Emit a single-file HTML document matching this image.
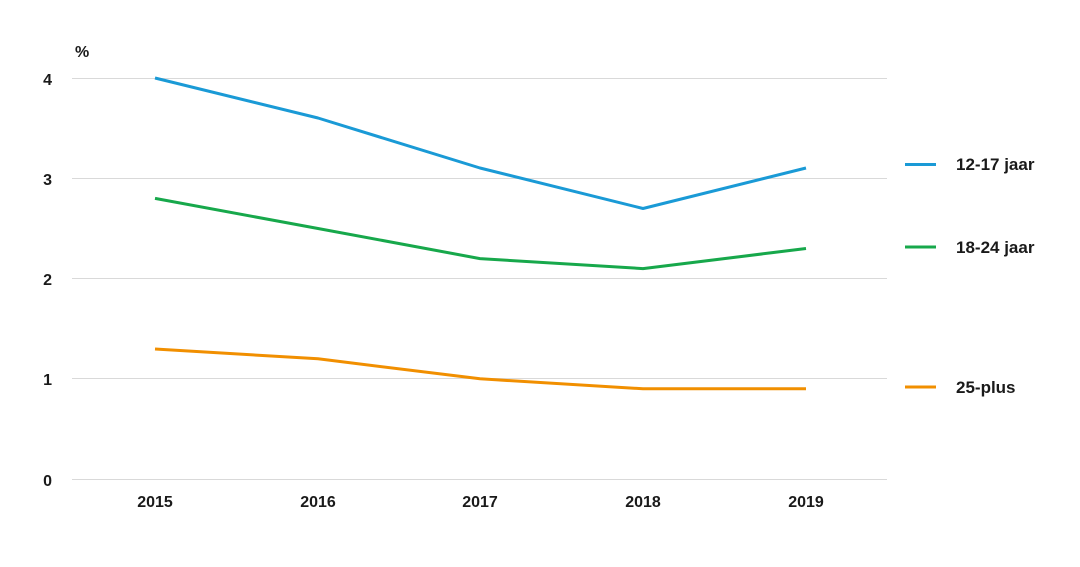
<!DOCTYPE html>
<html><head><style>
html,body{margin:0;padding:0;background:#fff;width:1080px;height:567px;overflow:hidden}
svg text{font-family:"Liberation Sans",sans-serif;font-weight:bold;fill:#1a1a1a}
</style></head><body>
<svg width="1080" height="567" xmlns="http://www.w3.org/2000/svg">
<g stroke="#d9d9d9" stroke-width="1">
<line x1="72" y1="78.5" x2="887" y2="78.5"/>
<line x1="72" y1="178.5" x2="887" y2="178.5"/>
<line x1="72" y1="278.5" x2="887" y2="278.5"/>
<line x1="72" y1="378.5" x2="887" y2="378.5"/>
<line x1="72" y1="479.5" x2="887" y2="479.5"/>
</g>
<g font-size="16" text-anchor="end">
<text x="52" y="85">4</text><text x="52" y="185">3</text><text x="52" y="285">2</text><text x="52" y="385">1</text><text x="52" y="486">0</text>
</g>
<text x="75" y="57" font-size="16">%</text>
<g font-size="16" text-anchor="middle">
<text x="155" y="507">2015</text><text x="318" y="507">2016</text><text x="480" y="507">2017</text><text x="643" y="507">2018</text><text x="806" y="507">2019</text>
</g>
<g fill="none" stroke-width="3" stroke-linejoin="round">
<polyline stroke="#1a9ad6" points="155,78 318,118 480,168 643,208.5 806,168"/>
<polyline stroke="#17a84b" points="155,198.4 318,228.5 480,258.6 643,268.6 806,248.5"/>
<polyline stroke="#f18f00" points="155,349 318,358.8 480,378.8 643,388.8 806,388.8"/>
</g>
<g stroke-width="3">
<line x1="905" y1="164.5" x2="936" y2="164.5" stroke="#1a9ad6"/>
<line x1="905" y1="247" x2="936" y2="247" stroke="#17a84b"/>
<line x1="905" y1="387" x2="936" y2="387" stroke="#f18f00"/>
</g>
<g font-size="17">
<text x="956" y="170">12-17 jaar</text>
<text x="956" y="253">18-24 jaar</text>
<text x="956" y="393">25-plus</text>
</g>
</svg>
</body></html>
